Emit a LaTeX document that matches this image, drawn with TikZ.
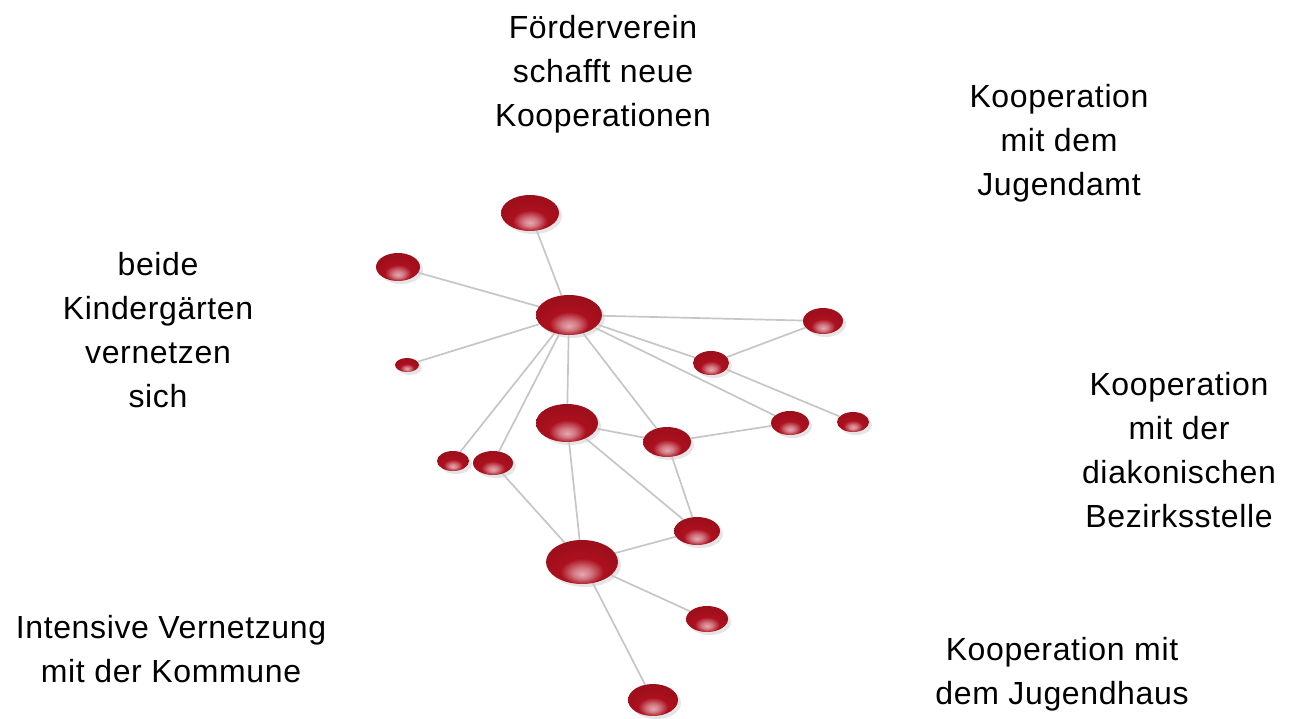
\documentclass[tikz,border=0pt]{standalone}
\usepackage{fontspec}
\setmainfont{Liberation Sans}[LetterSpace=2]
\usepackage{tikz}
\usetikzlibrary{shapes.geometric,shadows,backgrounds}

\definecolor{ballred}{RGB}{172,16,30}
\definecolor{hilite}{RGB}{228,168,176}
\pgfdeclareradialshading{redball}{\pgfpoint{0bp}{-14bp}}{%
  color(0bp)=(hilite); color(6bp)=(hilite!70!ballred); color(15bp)=(ballred);
  color(36bp)=(ballred!88!black); color(66bp)=(ballred!58!black)}

\begin{document}
\begin{tikzpicture}[
                x=1pt, y=-1pt,
                ball/.style={ellipse, inner sep=0pt, shading=redball,
                    drop shadow={shadow xshift=3pt, shadow yshift=-3pt, fill=gray!40}},
                link/.style={draw=gray!45, line width=1.7pt},
                lbl/.style={font=\fontsize{32}{44}\selectfont, align=center,
                    inner sep=0pt, anchor=north}
            ]
                \useasboundingbox (0,0) rectangle (1297,718);
                % the balls
                \node[ball, minimum width=58pt, minimum height=36pt] (foerder) at (530,213) {};
                \node[ball, minimum width=44pt, minimum height=28pt] (kigaA) at (398,267) {};
                \node[ball, minimum width=66pt, minimum height=40pt] (hub) at (569,315) {};
                \node[ball, minimum width=24pt, minimum height=14pt] (kigaB) at (407,365) {};
                \node[ball, minimum width=40pt, minimum height=26pt] (amtA) at (823,321) {};
                \node[ball, minimum width=36pt, minimum height=24pt] (amtB) at (711,363) {};
                \node[ball, minimum width=62pt, minimum height=38pt] (mitte) at (567,423) {};
                \node[ball, minimum width=48pt, minimum height=30pt] (diak) at (667,442) {};
                \node[ball, minimum width=38pt, minimum height=24pt] (diakA) at (790,423) {};
                \node[ball, minimum width=32pt, minimum height=20pt] (diakB) at (853,422) {};
                \node[ball, minimum width=32pt, minimum height=20pt] (kommA) at (453,461) {};
                \node[ball, minimum width=40pt, minimum height=24pt] (kommB) at (493,463) {};
                \node[ball, minimum width=72pt, minimum height=44pt] (komm) at (582,562) {};
                \node[ball, minimum width=46pt, minimum height=28pt] (hausA) at (697,531) {};
                \node[ball, minimum width=42pt, minimum height=26pt] (hausB) at (707,619) {};
                \node[ball, minimum width=50pt, minimum height=32pt] (hausC) at (653,700) {};
                % the links
                \begin{scope}[on background layer]
                    \foreach \a/\b in {hub/foerder, hub/kigaA, hub/kigaB, hub/amtA, hub/amtB,
                        hub/diakA, hub/diak, hub/mitte, hub/kommA, hub/kommB,
                        amtB/amtA, amtB/diakB, mitte/diak, diak/diakA, mitte/komm,
                        mitte/hausA, diak/hausA, kommB/komm, komm/hausA, komm/hausB, komm/hausC}
                        \draw[link] (\a) -- (\b);
                \end{scope}
                % the labels
                \node[lbl] (txtFoerder) at (603,7) {\strut F\"orderverein\\schafft neue\\Kooperationen};
                \node[lbl] (txtAmt) at (1059,76) {\strut Kooperation\\mit dem\\Jugendamt};
                \node[lbl] (txtKiga) at (158,244) {\strut beide\\Kinderg\"arten\\vernetzen\\sich};
                \node[lbl] (txtDiak) at (1179,364) {\strut Kooperation\\mit der\\diakonischen\\Bezirksstelle};
                \node[lbl] (txtKomm) at (171,607) {\strut Intensive Vernetzung\\mit der Kommune};
                \node[lbl] (txtHaus) at (1062,629) {\strut Kooperation mit\\dem Jugendhaus};
            \end{tikzpicture}
\end{document}
